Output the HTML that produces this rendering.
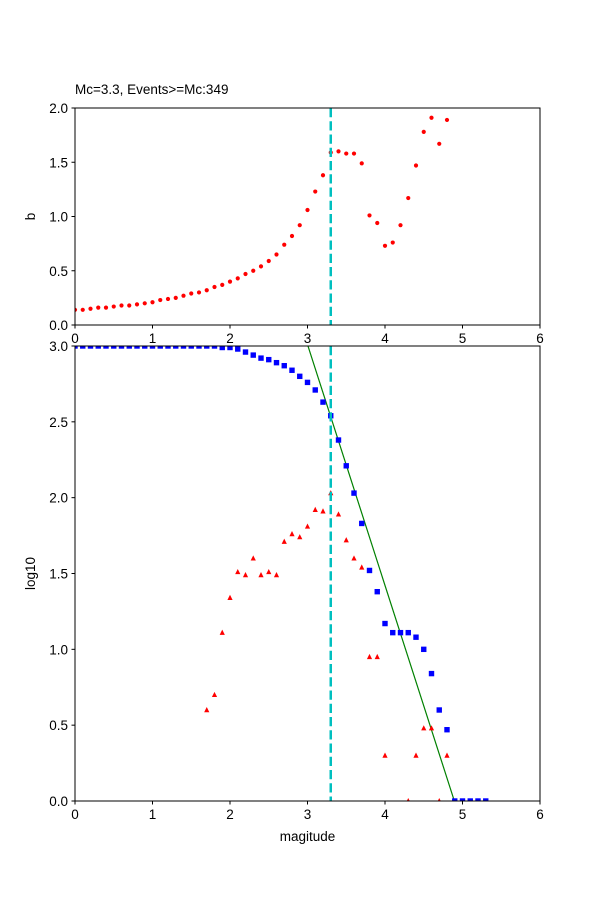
<!DOCTYPE html>
<html><head><meta charset="utf-8"><style>
body{margin:0;background:#fff}
svg{display:block}
text{font-family:"Liberation Sans","DejaVu Sans",sans-serif;font-size:13.5px;fill:#000}
</style></head><body>
<svg id="s" width="600" height="900" xmlns="http://www.w3.org/2000/svg">
<text x="75" y="94">Mc=3.3, Events&gt;=Mc:349</text>
<text transform="translate(35,216.5) rotate(-90)" text-anchor="middle">b</text>
<text transform="translate(35,573.5) rotate(-90)" text-anchor="middle">log10</text>
<text x="307.5" y="841" text-anchor="middle">magitude</text>
<g id="g"></g>
</svg>
<script>
var g=document.getElementById('g'),h='';
function X(m){return 75+77.5*m}
function YT(v){return 325-108.5*v}
function YB(v){return 801-151.67*v}
var b=[0.14,0.14,0.15,0.16,0.16,0.17,0.18,0.18,0.19,0.2,0.21,0.23,0.24,0.25,0.27,0.29,0.3,0.32,0.35,0.37,0.4,0.43,0.47,0.5,0.54,0.59,0.65,0.74,0.82,0.92,1.06,1.23,1.38,1.59,1.6,1.58,1.58,1.49,1.01,0.94,0.73,0.76,0.92,1.17,1.47,1.78,1.91,1.67,1.89];
var bl=[];for(var i=0;i<19;i++)bl.push(3.0);
bl=bl.concat([2.99,2.99,2.98,2.96,2.94,2.92,2.91,2.89,2.87,2.84,2.8,2.76,2.71,2.63,2.54,2.38,2.21,2.03,1.83,1.52,1.38,1.17,1.11,1.11,1.11,1.08,1.0,0.84,0.6,0.47,0,0,0,0,0]);
var rt=[[1.7,0.6],[1.8,0.7],[1.9,1.11],[2.0,1.34],[2.1,1.51],[2.2,1.49],[2.3,1.6],[2.4,1.49],[2.5,1.51],[2.6,1.49],[2.7,1.71],[2.8,1.76],[2.9,1.74],[3.0,1.81],[3.1,1.92],[3.2,1.91],[3.3,2.03],[3.4,1.89],[3.5,1.72],[3.6,1.6],[3.7,1.54],[3.8,0.95],[3.9,0.95],[4.0,0.3],[4.3,0],[4.4,0.3],[4.5,0.48],[4.6,0.48],[4.7,0],[4.8,0.3]];
h+='<svg x="75" y="108" width="465" height="217" overflow="hidden"><g transform="translate(-75,-108)">';
b.forEach(function(v,i){h+='<circle cx="'+X(i/10)+'" cy="'+YT(v)+'" r="2.1" fill="red"/>'});
h+='<line x1="'+X(3.3)+'" y1="108" x2="'+X(3.3)+'" y2="325" stroke="#00bfbf" stroke-width="2.5" stroke-dasharray="9.25,4"/>';
h+='</g></svg>';
h+='<svg x="75" y="346" width="465" height="455" overflow="hidden"><g transform="translate(-75,-346)">';
h+='<line x1="'+X(3.006)+'" y1="'+YB(3)+'" x2="'+X(4.895)+'" y2="'+YB(0)+'" stroke="green" stroke-width="1.2"/>';
bl.forEach(function(v,i){var x=X(i/10),y=YB(v);h+='<rect x="'+(x-2.7)+'" y="'+(y-2.7)+'" width="5.4" height="5.4" fill="blue"/>'});
rt.forEach(function(p){var x=X(p[0]),y=YB(p[1]);h+='<polygon points="'+(x-2.6)+','+(y+2.2)+' '+(x+2.6)+','+(y+2.2)+' '+x+','+(y-3)+'" fill="red"/>'});
h+='<line x1="'+X(3.3)+'" y1="346" x2="'+X(3.3)+'" y2="801" stroke="#00bfbf" stroke-width="2.5" stroke-dasharray="9.25,4"/>';
h+='</g></svg>';
h+='<rect x="75" y="108" width="465" height="217" fill="none" stroke="#000" stroke-width="1"/>';
h+='<rect x="75" y="346" width="465" height="455" fill="none" stroke="#000" stroke-width="1"/>';
[325,801].forEach(function(y0){for(var m=0;m<=6;m++){var x=X(m);h+='<line x1="'+x+'" y1="'+y0+'" x2="'+x+'" y2="'+(y0+3.5)+'" stroke="#000"/><text x="'+x+'" y="'+(y0+18)+'" text-anchor="middle">'+m+'</text>';}});
for(var v=0;v<=2.001;v+=0.5){var y=YT(v);h+='<line x1="71.5" y1="'+y+'" x2="75" y2="'+y+'" stroke="#000"/><text x="68" y="'+(y+5)+'" text-anchor="end">'+v.toFixed(1)+'</text>';}
for(var v=0;v<=3.001;v+=0.5){var y=YB(v);h+='<line x1="71.5" y1="'+y+'" x2="75" y2="'+y+'" stroke="#000"/><text x="68" y="'+(y+5)+'" text-anchor="end">'+v.toFixed(1)+'</text>';}
g.innerHTML=h;
</script>
</body></html>
